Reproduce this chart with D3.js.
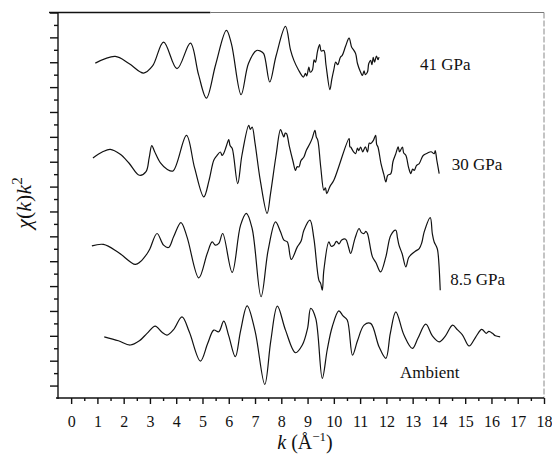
<!DOCTYPE html>
<html>
<head>
<meta charset="utf-8">
<script src="https://cdn.jsdelivr.net/npm/d3@7"></script>
<style>
body { margin: 0; background: #fff; }
svg { display: block; }
</style>
</head>
<body>
<script>
// k (1/A), chi(k)k^2 (stacked, arbitrary units)
var ambient = [[1.26,4.92],[1.8,4.6],[2.25,4.26],[2.6,4.6],[2.89,5.20],[3.20,5.78],[3.45,5.3],[3.65,5.06],[3.9,5.5],[4.22,6.53],[4.5,5.3],[4.92,2.97],[5.2,4.4],[5.43,5.46],[5.62,5.33],[5.81,6.18],[6.0,5.0],[6.25,3.32],[6.45,5.4],[6.70,7.41],[7.0,5.4],[7.37,1.10],[7.6,4.6],[7.85,7.39],[8.16,5.46],[8.54,3.64],[8.80,4.26],[9.0,5.6],[9.12,7.20],[9.31,6.40],[9.56,1.58],[9.75,3.9],[9.94,5.73],[10.19,7.01],[10.35,6.6],[10.51,6.27],[10.71,3.45],[10.9,4.6],[11.15,5.86],[11.40,6.00],[11.72,4.12],[11.98,3.19],[12.15,5.2],[12.36,6.93],[12.67,5.06],[12.99,3.99],[13.2,4.8],[13.50,5.94],[13.75,5.0],[14.01,4.52],[14.25,5.0],[14.52,5.86],[14.7,5.5],[14.90,5.06],[15.15,4.18],[15.4,4.9],[15.63,5.52],[15.8,5.2],[15.9,5.35],[16.04,5.20],[16.15,5.0],[16.33,4.92]];

var gpa8_5 = [[0.79,12.23],[1.23,12.35],[1.8,11.7],[2.44,10.74],[2.63,10.95],[2.89,11.6],[3.0,12.0],[3.27,13.23],[3.52,12.29],[3.71,12.10],[3.90,12.96],[4.18,14.11],[4.41,12.96],[4.86,9.66],[5.18,11.62],[5.37,12.55],[5.49,12.29],[5.62,12.43],[5.77,13.23],[6.13,10.10],[6.45,13.90],[6.67,14.84],[6.89,13.63],[7.23,8.14],[7.50,11.89],[7.78,14.16],[7.97,13.36],[8.10,12.69],[8.23,12.55],[8.38,11.14],[8.61,12.15],[8.75,12.6],[8.86,13.49],[9.09,14.30],[9.24,12.83],[9.43,9.48],[9.5,9.2],[9.56,8.67],[9.62,10.28],[9.81,12.55],[9.9,12.2],[10.00,12.29],[10.1,12.6],[10.2,12.4],[10.3,12.7],[10.45,12.77],[10.55,12.2],[10.64,11.62],[10.8,12.8],[10.96,13.63],[11.05,13.3],[11.15,13.23],[11.22,13.4],[11.28,13.23],[11.47,11.35],[11.6,10.9],[11.78,10.14],[11.98,11.35],[12.17,13.09],[12.36,13.49],[12.42,12.9],[12.48,12.29],[12.6,11.6],[12.74,10.55],[12.85,11.3],[12.99,11.62],[13.1,11.8],[13.25,12.02],[13.35,12.5],[13.44,13.36],[13.67,14.51],[13.75,13.2],[13.82,12.55],[13.9,12.2],[13.95,11.89],[14.05,8.67]];

var gpa30 = [[0.83,19.30],[1.2,19.8],[1.49,20.00],[1.87,19.60],[2.2,18.9],[2.60,17.91],[2.85,18.2],[2.97,19.3],[3.07,20.3],[3.18,19.8],[3.4,18.9],[3.65,18.4],[3.88,18.26],[4.39,21.12],[4.7,18.5],[5.05,16.17],[5.25,17.5],[5.43,19.12],[5.55,19.5],[5.68,19.78],[5.75,19.5],[5.81,19.68],[5.9,20.2],[6.00,20.78],[6.05,20.3],[6.13,20.08],[6.34,17.24],[6.5,19.5],[6.76,21.93],[6.82,21.6],[6.89,21.79],[7.0,20.5],[7.2,17.5],[7.46,14.84],[7.59,16.44],[7.8,19.5],[7.97,21.58],[8.05,21.2],[8.10,20.99],[8.15,21.3],[8.20,21.26],[8.3,20.3],[8.45,19.0],[8.54,18.31],[8.6,18.6],[8.67,18.58],[8.75,19.1],[8.86,19.38],[8.95,19.9],[9.09,20.46],[9.18,20.9],[9.28,21.53],[9.33,21.0],[9.39,20.72],[9.5,18.6],[9.62,16.71],[9.68,16.9],[9.73,16.44],[9.85,17.0],[10.00,17.51],[10.58,20.86],[10.61,20.2],[10.64,20.18],[10.75,19.8],[10.83,19.65],[10.9,20.1],[10.95,19.9],[11.02,20.18],[11.1,19.8],[11.2,20.2],[11.28,19.78],[11.35,20.5],[11.40,20.46],[11.5,20.7],[11.59,21.12],[11.63,20.4],[11.68,20.18],[11.8,18.8],[11.9,18.0],[11.98,17.37],[12.05,17.9],[12.17,18.05],[12.25,19.0],[12.36,19.65],[12.45,20.2],[12.5,19.8],[12.61,20.18],[12.66,19.7],[12.74,19.52],[12.85,18.5],[12.93,18.05],[13.0,18.4],[13.06,18.31],[13.15,18.7],[13.25,18.85],[13.4,19.5],[13.57,19.70],[13.7,19.8],[13.82,19.65],[13.86,19.9],[13.92,19.12],[14.01,18.05]];

var gpa41 = [[0.92,26.93],[1.68,27.47],[2.2,26.9],[2.76,26.13],[3.1,26.7],[3.52,28.62],[4.03,26.48],[4.54,28.54],[4.85,26.0],[5.15,24.12],[5.5,26.8],[5.91,29.56],[6.1,28.5],[6.47,24.39],[6.75,26.9],[7.06,27.95],[7.2,27.9],[7.33,27.69],[7.56,25.41],[7.8,27.5],[8.16,29.88],[8.35,28.0],[8.48,27.15],[8.65,26.4],[8.84,25.81],[8.92,26.1],[8.97,25.9],[9.05,26.61],[9.1,26.2],[9.18,26.35],[9.25,27.2],[9.3,27.0],[9.38,27.9],[9.46,28.41],[9.52,27.9],[9.62,27.95],[9.7,26.8],[9.85,24.80],[9.92,25.6],[10.0,26.4],[10.07,27.01],[10.15,26.8],[10.25,27.4],[10.32,27.55],[10.45,28.3],[10.58,28.94],[10.68,28.2],[10.75,28.0],[10.83,27.69],[10.9,26.9],[11.0,26.3],[11.09,25.94],[11.15,26.3],[11.2,26.0],[11.28,26.21],[11.33,26.9],[11.4,27.15],[11.45,26.8],[11.5,27.4],[11.55,27.0],[11.62,27.5],[11.68,27.2],[11.72,27.41]];

var seriesNames = ["41 GPa", "30 GPa", "8.5 GPa", "Ambient"];
var seriesData = [gpa41, gpa30, gpa8_5, ambient];
var labelPos = [[13.28, 26.4], [14.49, 18.3], [14.43, 9.1], [12.52, 1.6]]; // k, y of label baseline

var xMajor = d3.range(0, 19, 1);
var xMinor = d3.range(0.5, 18, 1);
var yMajor = d3.range(1, 32, 2);
var yMinor = d3.range(2, 31, 2);

var W = 552, H = 457;
var m = { left: 58, right: 8, top: 12.5, bottom: 59 };
var serif = "'Liberation Serif', 'Times New Roman', 'DejaVu Serif', serif";

var svg = d3.select("body").append("svg")
  .attr("width", W)
  .attr("height", H);

var x = d3.scaleLinear().domain([-0.5, 18]).range([m.left, W - m.right]);
var y = d3.scaleLinear().domain([0, 31]).range([H - m.bottom, m.top]);

// frame: top and right edges are faint in the scan
svg.append("line")
  .attr("x1", m.left - 9).attr("x2", x(5.3))
  .attr("y1", m.top).attr("y2", m.top)
  .attr("stroke", "#111").attr("stroke-width", 1.3);
svg.append("line")
  .attr("x1", x(5.3)).attr("x2", W - m.right)
  .attr("y1", m.top).attr("y2", m.top)
  .attr("stroke", "#777").attr("stroke-width", 1);
svg.append("line")
  .attr("x1", W - m.right).attr("x2", W - m.right)
  .attr("y1", m.top).attr("y2", H - m.bottom)
  .attr("stroke", "#888").attr("stroke-width", 1)
  .attr("stroke-dasharray", "6,2");

// x axis
var gx = svg.append("g").attr("transform", "translate(0," + (H - m.bottom) + ")");
gx.append("g")
  .call(d3.axisBottom(x).tickValues(xMinor).tickSize(3).tickSizeOuter(0).tickFormat(""))
  .call(g => g.select(".domain").remove());
gx.append("g")
  .call(d3.axisBottom(x).tickValues(xMajor).tickSize(6).tickSizeOuter(0).tickPadding(12).tickFormat(d3.format("d")))
  .call(g => g.select(".domain").attr("d", "M" + (m.left - 2) + ",0H" + (W - m.right)))
  .call(g => g.selectAll("text").style("font-family", serif).style("font-size", "16px").attr("fill", "#111"));
gx.selectAll("path, line").attr("stroke", "#111").attr("stroke-width", 1.4);

// y axis
var gy = svg.append("g").attr("transform", "translate(" + m.left + ",0)");
gy.append("g")
  .call(d3.axisLeft(y).tickValues(yMinor).tickSize(4).tickSizeOuter(0).tickFormat(""))
  .call(g => g.select(".domain").remove());
gy.append("g")
  .call(d3.axisLeft(y).tickValues(yMajor).tickSize(8).tickSizeOuter(0).tickFormat(""))
  .call(g => g.select(".domain").attr("d", "M0," + (H - m.bottom + 1) + "V" + m.top));
gy.selectAll("path, line").attr("stroke", "#111").attr("stroke-width", 1.4);

// curves
var line = d3.line()
  .x(d => x(d[0]))
  .y(d => y(d[1]))
  .curve(d3.curveCatmullRom.alpha(0.5));

svg.append("g")
  .selectAll("path")
  .data(seriesData)
  .join("path")
  .attr("d", line)
  .attr("fill", "none")
  .attr("stroke", "#111")
  .attr("stroke-width", 1.2)
  .attr("stroke-linejoin", "round");

// series labels
svg.append("g")
  .selectAll("text")
  .data(seriesNames)
  .join("text")
  .attr("x", (d, i) => x(labelPos[i][0]))
  .attr("y", (d, i) => y(labelPos[i][1]))
  .style("font-family", serif)
  .style("font-size", "17px")
  .attr("fill", "#111")
  .text(d => d);

// axis titles
var ty = svg.append("text")
  .attr("transform", "translate(31,203) rotate(-90)")
  .attr("text-anchor", "middle")
  .style("font-family", serif)
  .style("font-size", "22px")
  .attr("fill", "#111");
ty.append("tspan").attr("font-style", "italic").text("χ");
ty.append("tspan").text("(");
ty.append("tspan").attr("font-style", "italic").text("k");
ty.append("tspan").text(")");
ty.append("tspan").attr("font-style", "italic").text("k");
ty.append("tspan").style("font-size", "15px").attr("dy", -9).text("2");

var tx = svg.append("text")
  .attr("x", (m.left + W - m.right) / 2 + 4)
  .attr("y", 449)
  .attr("text-anchor", "middle")
  .style("font-family", serif)
  .style("font-size", "20px")
  .attr("fill", "#111");
tx.append("tspan").attr("font-style", "italic").text("k");
tx.append("tspan").text(" (Å");
tx.append("tspan").style("font-size", "13px").attr("dy", -8).text("−1");
tx.append("tspan").attr("dy", 8).text(")");
</script>
</body>
</html>
